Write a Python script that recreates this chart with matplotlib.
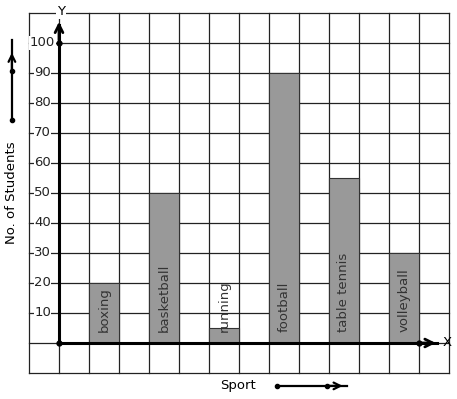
import numpy as np
import matplotlib
matplotlib.use("Agg")
import matplotlib.pyplot as plt

# data
sports = ["boxing", "basketball", "running", "football", "table tennis", "volleyball"]
students = [20, 50, 5, 90, 55, 30]
bar_slots = [1, 3, 5, 7, 9, 11]
yticks = [10, 20, 30, 40, 50, 60, 70, 80, 90, 100]

fs = 9.5

fig = plt.figure(figsize=(4.57, 3.99), dpi=100)
ax = fig.add_axes([0, 0, 1, 1])
# 1 grid column = 30 px, 10 students = 30 px; origin at px (59, 343)
ax.set_xlim(-59 / 30, (457 - 59) / 30)
ax.set_ylim((343 - 399) / 3, 343 / 3)
ax.axis("off")

# grid
gc = "#222222"
for gx in range(-1, 14):
    ax.plot([gx, gx], [-10, 110], color=gc, lw=0.9, zorder=1)
for gy in range(-10, 111, 10):
    ax.plot([-1, 13], [gy, gy], color=gc, lw=0.9, zorder=1)

# bars
ax.bar([s + 0.5 for s in bar_slots], students, width=1.0, color="#999999",
       edgecolor="#333333", linewidth=0.8, zorder=2)
for s, name in zip(bar_slots, sports):
    ax.text(s + 0.5, 3.5, name, rotation=90, ha="center", va="bottom",
            fontsize=fs, color="#333333", zorder=4)

# axes with arrows
ax.plot([0, 0], [0, 106], color="black", lw=2.2, zorder=3)
ax.plot([0, 12.6], [0, 0], color="black", lw=2.2, zorder=3)
ax.annotate("", xy=(0, 108), xytext=(0, 100),
            arrowprops=dict(arrowstyle="->", lw=2, color="black", mutation_scale=14), zorder=3)
ax.annotate("", xy=(12.65, 0), xytext=(12, 0),
            arrowprops=dict(arrowstyle="->", lw=2, color="black", mutation_scale=14), zorder=3)
ax.plot([0, 0, 12], [0, 100, 0], "o", color="black", ms=3.5, zorder=5)

ax.text(0.07, 110.5, "Y", ha="center", va="center", fontsize=fs,
        bbox=dict(facecolor="white", edgecolor="none", pad=0.5), zorder=4)
ax.text(12.95, 0.3, "X", ha="center", va="center", fontsize=fs, zorder=4)

# y tick labels sitting on the grid lines
for t in yticks:
    ax.text(-0.55, t, str(t), ha="center", va="center", fontsize=fs, color="#222222",
            bbox=dict(facecolor="white", edgecolor="none", pad=0.3), zorder=4)

# axis titles
ax.text(-1.57, 50, "No. of Students", rotation=90, ha="center", va="center", fontsize=fs)
ax.text(5.97, -14, "Sport", ha="center", va="center", fontsize=fs)

# little direction arrows
ax.plot([-1.57, -1.57], [74.3, 101], color="black", lw=1.6)
ax.annotate("", xy=(-1.57, 97.7), xytext=(-1.57, 90),
            arrowprops=dict(arrowstyle="->", lw=1.6, color="black", mutation_scale=12))
ax.plot([-1.57, -1.57], [74.3, 90.7], "o", color="black", ms=3)
ax.plot([7.27, 9.6], [-14.3, -14.3], color="black", lw=1.6)
ax.annotate("", xy=(9.55, -14.3), xytext=(8.9, -14.3),
            arrowprops=dict(arrowstyle="->", lw=1.6, color="black", mutation_scale=12))
ax.plot([7.27, 8.93], [-14.3, -14.3], "o", color="black", ms=3)

fig.savefig("out.png", dpi=100)
